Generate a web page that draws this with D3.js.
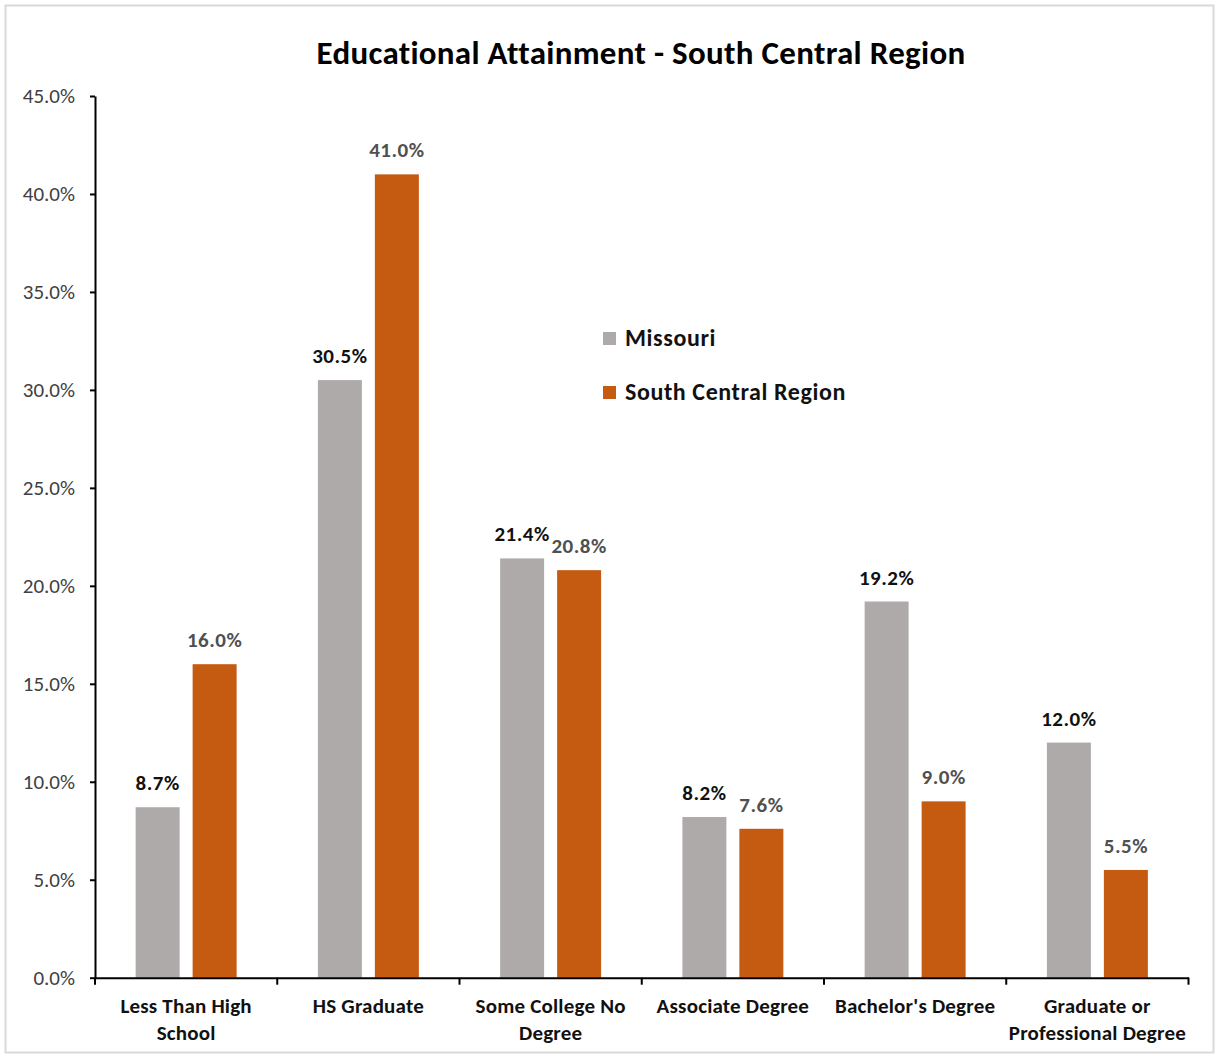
<!DOCTYPE html>
<html>
<head>
<meta charset="utf-8">
<script src="https://cdn.jsdelivr.net/npm/d3@7"></script>
<style>
  html, body { margin: 0; padding: 0; background: #ffffff; }
  svg { display: block; font-family: Carlito, Calibri, Lato, "Open Sans", sans-serif; }
</style>
</head>
<body>
<svg id="chart" width="1216" height="1057"></svg>
<script>
// Educational attainment shares (%) by category
const categories = [
  "Less Than High School",
  "HS Graduate",
  "Some College No Degree",
  "Associate Degree",
  "Bachelor's Degree",
  "Graduate or Professional Degree"
];
const categoryLines = [
  ["Less Than High", "School"],
  ["HS Graduate"],
  ["Some College No", "Degree"],
  ["Associate Degree"],
  ["Bachelor's Degree"],
  ["Graduate or", "Professional Degree"]
];
const seriesNames = ["Missouri", "South Central Region"];
const missouri = [8.7, 30.5, 21.4, 8.2, 19.2, 12.0];
const southCentral = [16.0, 41.0, 20.8, 7.6, 9.0, 5.5];
const yTicks = [0, 5, 10, 15, 20, 25, 30, 35, 40, 45];

const seriesValues = [missouri, southCentral];
const barColors = ["#AEAAAA", "#C55A11"];
const labelColors = ["#111111", "#505050"];
const FONT = 'Carlito, Calibri, Lato, "Open Sans", sans-serif';

const svg = d3.select("#chart");

// outer frame
svg.append("rect")
  .attr("x", 5.5).attr("y", 5.5)
  .attr("width", 1208).attr("height", 1047)
  .attr("fill", "#ffffff")
  .attr("stroke", "#d9d9d9").attr("stroke-width", 2);

const plot = { left: 95, right: 1188.5, top: 96, bottom: 977.7 };

const y = d3.scaleLinear().domain([0, 45]).range([plot.bottom, plot.top]);

const x0 = d3.scaleBand()
  .domain(categories)
  .range([plot.left, plot.right])
  .paddingInner(0.446)
  .paddingOuter(0.223);

const x1 = d3.scaleBand()
  .domain(seriesNames)
  .range([0, x0.bandwidth()])
  .paddingInner(0.228);

// title
svg.append("text")
  .attr("x", 641).attr("y", 64)
  .attr("text-anchor", "middle")
  .attr("font-size", 33).attr("font-weight", "bold")
  .attr("letter-spacing", 0.3)
  .attr("fill", "#000000")
  .text("Educational Attainment - South Central Region");

// bars
const rows = categories.map((c, i) => ({
  cat: c,
  vals: seriesNames.map((s, j) => ({ series: s, j, value: seriesValues[j][i] }))
}));

const groups = svg.append("g").selectAll("g")
  .data(rows).join("g")
  .attr("transform", d => `translate(${x0(d.cat)},0)`);

groups.selectAll("rect")
  .data(d => d.vals).join("rect")
  .attr("x", d => x1(d.series))
  .attr("y", d => y(d.value))
  .attr("width", x1.bandwidth())
  .attr("height", d => y(0) - y(d.value))
  .attr("fill", d => barColors[d.j]);

groups.selectAll("text")
  .data(d => d.vals).join("text")
  .attr("x", d => x1(d.series) + x1.bandwidth() / 2)
  .attr("y", d => y(d.value) - 17)
  .attr("text-anchor", "middle")
  .attr("font-size", 21).attr("font-weight", "bold")
  .attr("letter-spacing", 0.5)
  .attr("fill", d => labelColors[d.j])
  .text(d => d.value.toFixed(1) + "%");

// y axis
const yAxis = svg.append("g")
  .attr("transform", `translate(${plot.left},0)`)
  .call(d3.axisLeft(y).tickValues(yTicks).tickSize(5).tickSizeOuter(0)
    .tickFormat(d => d.toFixed(1) + "%"))
  .attr("font-family", FONT);
yAxis.select(".domain").attr("stroke", "#000").attr("stroke-width", 2);
yAxis.selectAll(".tick line").attr("stroke", "#000").attr("stroke-width", 2);
yAxis.selectAll(".tick text")
  .attr("x", -20)
  .attr("font-size", 21)
  .attr("fill", "#404040");

// x axis: baseline plus ticks at category boundaries
const xAxis = svg.append("g")
  .attr("transform", `translate(0,${plot.bottom})`)
  .call(d3.axisBottom(x0).tickSize(0).tickSizeOuter(0).tickFormat(""));
xAxis.select(".domain").attr("stroke", "#000").attr("stroke-width", 2);

const boundaries = d3.range(categories.length + 1)
  .map(i => plot.left + i * x0.step());
xAxis.selectAll(".bound")
  .data(boundaries).join("line")
  .attr("class", "bound")
  .attr("x1", d => d).attr("x2", d => d)
  .attr("y1", 0).attr("y2", 7)
  .attr("stroke", "#000").attr("stroke-width", 2);

// category labels
const catLabels = svg.append("g").selectAll("text")
  .data(categories).join("text")
  .attr("x", d => x0(d) + x0.bandwidth() / 2)
  .attr("y", 1013)
  .attr("text-anchor", "middle")
  .attr("font-size", 21).attr("font-weight", "bold")
  .attr("letter-spacing", 0.2)
  .attr("fill", "#111111");
catLabels.selectAll("tspan")
  .data((d, i) => categoryLines[i]).join("tspan")
  .attr("x", function () { return d3.select(this.parentNode).attr("x"); })
  .attr("dy", (d, i) => i === 0 ? 0 : 27)
  .text(d => d);

// legend
const legend = svg.append("g").selectAll("g")
  .data(seriesNames).join("g")
  .attr("transform", (d, i) => `translate(603,${332 + i * 54})`);
legend.append("rect")
  .attr("width", 13).attr("height", 13)
  .attr("fill", (d, i) => barColors[i]);
legend.append("text")
  .attr("x", 22).attr("y", 14)
  .attr("font-size", 24).attr("font-weight", "bold")
  .attr("letter-spacing", 0.6)
  .attr("fill", "#111111")
  .text(d => d);
</script>
</body>
</html>
